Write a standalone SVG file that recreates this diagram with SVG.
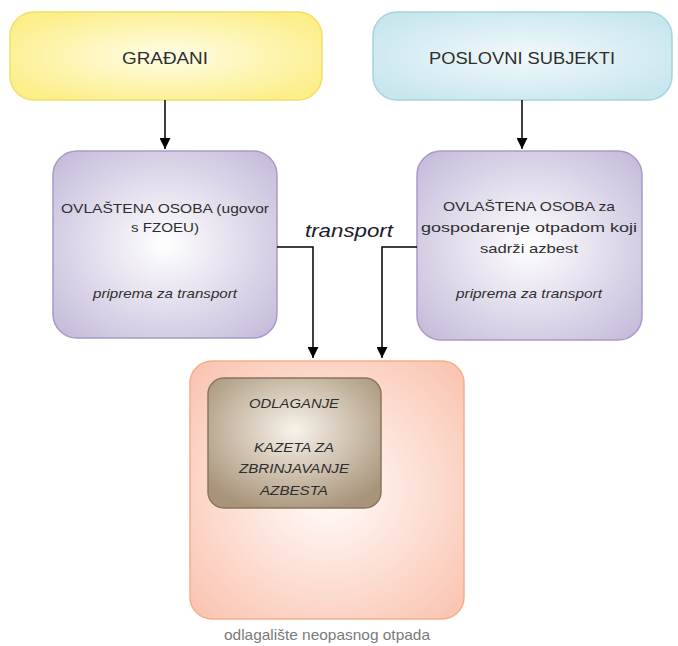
<svg xmlns="http://www.w3.org/2000/svg" width="678" height="646" viewBox="0 0 678 646">
<defs>
<radialGradient id="gY" cx="50%" cy="50%" r="60%"><stop offset="0" stop-color="#fffde6"/><stop offset="1" stop-color="#fcee88"/></radialGradient>
<radialGradient id="gB" cx="50%" cy="50%" r="60%"><stop offset="0" stop-color="#f1f9fb"/><stop offset="1" stop-color="#c8e6ee"/></radialGradient>
<radialGradient id="gP" cx="50%" cy="50%" r="65%"><stop offset="0" stop-color="#ffffff"/><stop offset="1" stop-color="#c7bddb"/></radialGradient>
<radialGradient id="gO" cx="50%" cy="50%" r="65%"><stop offset="0" stop-color="#fffdfc"/><stop offset="1" stop-color="#fac6b3"/></radialGradient>
<radialGradient id="gBr" cx="50%" cy="40%" r="65%"><stop offset="0" stop-color="#f8f3ea"/><stop offset="1" stop-color="#a8947a"/></radialGradient>
<marker id="arr" viewBox="0 0 10 10" refX="10" refY="5" markerWidth="11" markerHeight="11" markerUnits="userSpaceOnUse" orient="auto"><path d="M0,0 L10,5 L0,10 z" fill="#000"/></marker>
<style>
.t{font-family:"Liberation Sans",Arial,sans-serif;fill:#2e2e2e;text-anchor:middle}
.n{font-size:13px}
.i{font-size:13px;font-style:italic}
.c{fill:none;stroke:#000;stroke-width:1.5;marker-end:url(#arr)}
</style>
</defs>
<g id="gradjani">
<rect x="10" y="12" width="312" height="88" rx="24" fill="url(#gY)" stroke="#f1df6a" stroke-width="1.5"/>
<text class="t" x="165" y="64" font-size="17" textLength="86" lengthAdjust="spacingAndGlyphs">GRAĐANI</text>
</g>
<g id="poslovni">
<rect x="373" y="12" width="299" height="88" rx="24" fill="url(#gB)" stroke="#a7d2dd" stroke-width="1.5"/>
<text class="t" x="522" y="64" font-size="17" textLength="186" lengthAdjust="spacingAndGlyphs">POSLOVNI SUBJEKTI</text>
</g>
<g id="ovlastena1">
<rect x="53" y="151" width="224" height="187" rx="24" fill="url(#gP)" stroke="#a99ac6" stroke-width="1.5"/>
<text class="t n" x="165" y="213" textLength="208" lengthAdjust="spacingAndGlyphs">OVLAŠTENA OSOBA (ugovor</text>
<text class="t n" x="165" y="232" textLength="68" lengthAdjust="spacingAndGlyphs">s FZOEU)</text>
<text class="t i" x="165" y="298" textLength="144" lengthAdjust="spacingAndGlyphs">priprema za transport</text>
</g>
<g id="ovlastena2">
<rect x="417" y="151" width="225" height="189" rx="24" fill="url(#gP)" stroke="#a99ac6" stroke-width="1.5"/>
<text class="t n" x="529" y="211" textLength="172" lengthAdjust="spacingAndGlyphs">OVLAŠTENA OSOBA za</text>
<text class="t n" x="529" y="232" textLength="216" lengthAdjust="spacingAndGlyphs">gospodarenje otpadom koji</text>
<text class="t n" x="529" y="253" textLength="98" lengthAdjust="spacingAndGlyphs">sadrži azbest</text>
<text class="t i" x="529" y="298" textLength="146" lengthAdjust="spacingAndGlyphs">priprema za transport</text>
</g>
<g id="odlagaliste">
<rect x="190" y="361" width="274" height="258" rx="22" fill="url(#gO)" stroke="#f5ae88" stroke-width="1.5"/>
<text class="t" x="327" y="640" font-size="15" style="fill:#7a7a7a" textLength="206" lengthAdjust="spacingAndGlyphs">odlagalište neopasnog otpada</text>
</g>
<g id="kazeta">
<rect x="208" y="378" width="173" height="130" rx="16" fill="url(#gBr)" stroke="#8a765c" stroke-width="1.5"/>
<text class="t i" x="294" y="408" font-size="14" textLength="90" lengthAdjust="spacingAndGlyphs">ODLAGANJE</text>
<text class="t i" x="294" y="452" font-size="14" textLength="80" lengthAdjust="spacingAndGlyphs">KAZETA ZA</text>
<text class="t i" x="294" y="473" font-size="14" textLength="110" lengthAdjust="spacingAndGlyphs">ZBRINJAVANJE</text>
<text class="t i" x="294" y="495" font-size="14" textLength="68" lengthAdjust="spacingAndGlyphs">AZBESTA</text>
</g>
<g id="connectors">
<path class="c" d="M165,100 V149"/>
<path class="c" d="M522,100 V149"/>
<path class="c" d="M277,247 H313 V358"/>
<path class="c" d="M417,247 H382 V358"/>
<text class="t" x="349" y="237" font-size="18" font-style="italic" style="fill:#1a1a2a" textLength="88" lengthAdjust="spacingAndGlyphs">transport</text>
</g>
</svg>
